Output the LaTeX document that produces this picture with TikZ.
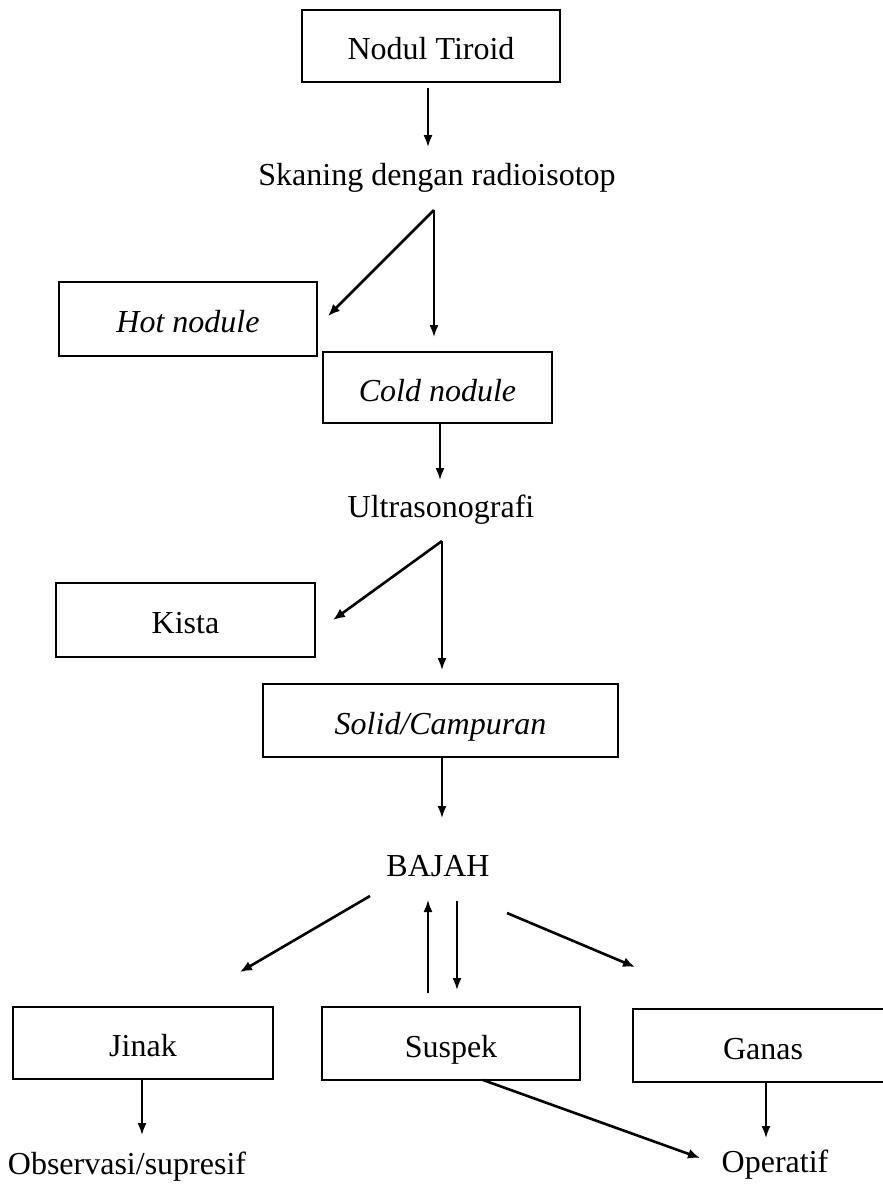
\documentclass[tikz,border=0pt]{standalone}
\usepackage{fontspec}
\setmainfont{Liberation Serif}
\usetikzlibrary{arrows.meta}
\begin{document}
\begin{tikzpicture}[x=1pt,y=-1pt,
  every node/.style={font=\fontsize{32}{38}\selectfont},
  box/.style={draw, line width=1.3pt, inner sep=0pt, minimum height=73pt, text height=27pt, text depth=0pt},
  lbl/.style={anchor=base, inner sep=0pt},
  arr/.style={line width=1.7pt, -{Latex[length=12pt,width=9pt]}},
  darr/.style={line width=2.6pt, -{Latex[length=12pt,width=10pt]}}]
\useasboundingbox (0,0) rectangle (883,1187);
\clip (0,0) rectangle (883,1187);
\fill[white] (0,0) rectangle (883,1187);

% boxes
\node[box, minimum width=258pt, minimum height=72pt] (nodul) at (431,46) {Nodul Tiroid};
\node[box, minimum width=258pt, minimum height=74pt] (hot) at (188,319) {\itshape Hot nodule};
\node[box, minimum width=229pt, minimum height=71pt] (cold) at (437.5,387.5) {\itshape Cold nodule};
\node[box, minimum width=259pt, minimum height=74pt] (kista) at (185.5,620) {Kista};
\node[box, minimum width=355pt, minimum height=73pt] (solid) at (440.5,720.5) {\itshape Solid/Campuran};
\node[box, minimum width=260pt, minimum height=72pt] (jinak) at (143,1043) {Jinak};
\node[box, minimum width=258pt, minimum height=73pt] (suspek) at (451,1043.5) {Suspek};
\node[box, minimum width=260pt, minimum height=73pt] (ganas) at (763,1045.5) {Ganas};

% plain text labels
\node[lbl] (skan) at (437,185) {Skaning dengan radioisotop};
\node[lbl] (usg) at (441,517) {Ultrasonografi};
\node[lbl] (bajah) at (438,876) {BAJAH};
\node[lbl] (obs) at (127,1174) {Observasi/supresif};
\node[lbl] (oper) at (775,1172) {Operatif};

% connector coordinates
\coordinate (nodulOut) at (428,88);
\coordinate (skanTip) at (428,147);
\coordinate (apexA) at (434,210);
\coordinate (hotTip) at (328,316);
\coordinate (coldTip) at (434,337);
\coordinate (coldOut) at (440,423);
\coordinate (usgTip) at (440,480);
\coordinate (apexB) at (442,541);
\coordinate (kistaTip) at (333,620);
\coordinate (solidTip) at (442,670);
\coordinate (solidOut) at (442,757);
\coordinate (bajahTip) at (442,818);
\coordinate (bjL) at (370,896);
\coordinate (jinakTip) at (240,972);
\coordinate (upS) at (428,993);
\coordinate (upE) at (428,900);
\coordinate (dnS) at (457,901);
\coordinate (dnE) at (457,990);
\coordinate (bjR) at (507,913);
\coordinate (ganasTip) at (635,967);
\coordinate (jinakOut) at (142,1079);
\coordinate (obsTip) at (142,1135);
\coordinate (suspOut) at (483,1080);
\coordinate (operTip) at (700,1158);
\coordinate (ganasOut) at (766,1082);
\coordinate (operTipB) at (766,1138);

% connectors
\draw[arr] (nodulOut) -- (skanTip);
\draw[darr] (apexA) -- (hotTip);
\draw[arr] (apexA) -- (coldTip);
\draw[arr] (coldOut) -- (usgTip);
\draw[darr] (apexB) -- (kistaTip);
\draw[arr] (apexB) -- (solidTip);
\draw[arr] (solidOut) -- (bajahTip);
\draw[darr] (bjL) -- (jinakTip);
\draw[arr] (upS) -- (upE);
\draw[arr] (dnS) -- (dnE);
\draw[darr] (bjR) -- (ganasTip);
\draw[arr] (jinakOut) -- (obsTip);
\draw[darr] (suspOut) -- (operTip);
\draw[arr] (ganasOut) -- (operTipB);
\end{tikzpicture}
\end{document}
